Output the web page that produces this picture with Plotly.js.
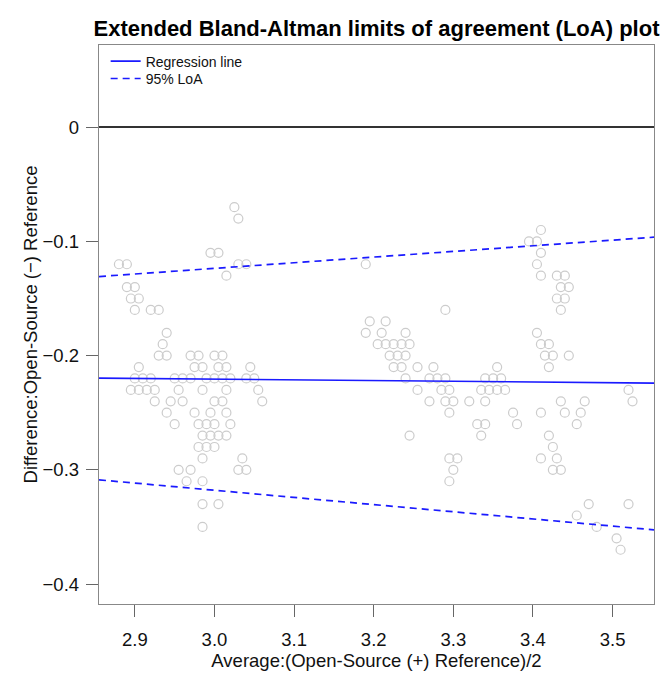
<!DOCTYPE html>
<html>
<head>
<meta charset="utf-8">
<script src="https://cdn.plot.ly/plotly-3.0.1.min.js"></script>
<style>html,body{margin:0;padding:0;background:#fff;}#chart{width:670px;height:673px;}</style>
</head>
<body>
<div id="chart"></div>
<script>
// Scatter points: average (x) and difference (y)
const avgValues = [
  3.025, 3.030,
  2.995, 3.005,
  2.880, 2.890, 3.030, 3.040,
  3.015,
  2.890, 2.900,
  2.895, 2.905,
  2.900, 2.920, 2.930,
  2.940,
  2.935,
  2.930, 2.940, 2.970, 2.980, 3.000, 3.010,
  2.905, 2.975, 2.985, 3.005, 3.015, 3.045,
  2.900, 2.910, 2.920, 2.950, 2.960, 2.970, 2.990, 3.000, 3.010, 3.020, 3.040, 3.050,
  2.895, 2.905, 2.915, 2.925, 2.955, 2.985, 3.015, 3.055,
  2.925, 2.945, 2.960, 3.000, 3.010, 3.060,
  2.940, 2.975, 2.995, 3.015,
  2.950, 2.980, 2.990, 3.000, 3.020,
  2.985, 2.995, 3.005, 3.015,
  2.980, 2.990, 3.000,
  2.985, 3.035,
  2.955, 2.970, 3.030, 3.040,
  2.965, 2.985,
  2.985, 3.005,
  2.985,
  3.190, 3.290,
  3.195, 3.215,
  3.190, 3.210, 3.240,
  3.205, 3.215, 3.225, 3.235, 3.245,
  3.220, 3.230, 3.240,
  3.225, 3.235, 3.255, 3.275, 3.355,
  3.240, 3.270, 3.280, 3.290, 3.340, 3.350, 3.360,
  3.255, 3.285, 3.295, 3.335, 3.345, 3.355, 3.365,
  3.270, 3.290, 3.300, 3.320, 3.340,
  3.295, 3.375,
  3.330, 3.340, 3.380,
  3.245, 3.335,
  3.295, 3.305,
  3.300,
  3.295,
  3.410,
  3.395, 3.405,
  3.410,
  3.405,
  3.410, 3.430, 3.440,
  3.435, 3.445,
  3.430, 3.440,
  3.435,
  3.405,
  3.410, 3.420,
  3.415, 3.425, 3.445,
  3.420,
  3.520,
  3.435, 3.465, 3.525,
  3.410, 3.440, 3.460,
  3.455,
  3.420,
  3.425,
  3.410, 3.430,
  3.425, 3.435,
  3.470, 3.520,
  3.455,
  3.480,
  3.505,
  3.510
];
const diffValues = [
  -0.07, -0.08,
  -0.11, -0.11,
  -0.12, -0.12, -0.12, -0.12,
  -0.13,
  -0.14, -0.14,
  -0.15, -0.15,
  -0.16, -0.16, -0.16,
  -0.18,
  -0.19,
  -0.20, -0.20, -0.20, -0.20, -0.20, -0.20,
  -0.21, -0.21, -0.21, -0.21, -0.21, -0.21,
  -0.22, -0.22, -0.22, -0.22, -0.22, -0.22, -0.22, -0.22, -0.22, -0.22, -0.22, -0.22,
  -0.23, -0.23, -0.23, -0.23, -0.23, -0.23, -0.23, -0.23,
  -0.24, -0.24, -0.24, -0.24, -0.24, -0.24,
  -0.25, -0.25, -0.25, -0.25,
  -0.26, -0.26, -0.26, -0.26, -0.26,
  -0.27, -0.27, -0.27, -0.27,
  -0.28, -0.28, -0.28,
  -0.29, -0.29,
  -0.30, -0.30, -0.30, -0.30,
  -0.31, -0.31,
  -0.33, -0.33,
  -0.35,
  -0.12, -0.16,
  -0.17, -0.17,
  -0.18, -0.18, -0.18,
  -0.19, -0.19, -0.19, -0.19, -0.19,
  -0.20, -0.20, -0.20,
  -0.21, -0.21, -0.21, -0.21, -0.21,
  -0.22, -0.22, -0.22, -0.22, -0.22, -0.22, -0.22,
  -0.23, -0.23, -0.23, -0.23, -0.23, -0.23, -0.23,
  -0.24, -0.24, -0.24, -0.24, -0.24,
  -0.25, -0.25,
  -0.26, -0.26, -0.26,
  -0.27, -0.27,
  -0.29, -0.29,
  -0.30,
  -0.31,
  -0.09,
  -0.10, -0.10,
  -0.11,
  -0.12,
  -0.13, -0.13, -0.13,
  -0.14, -0.14,
  -0.15, -0.15,
  -0.16,
  -0.18,
  -0.19, -0.19,
  -0.20, -0.20, -0.20,
  -0.21,
  -0.23,
  -0.24, -0.24, -0.24,
  -0.25, -0.25, -0.25,
  -0.26,
  -0.27,
  -0.28,
  -0.29, -0.29,
  -0.30, -0.30,
  -0.33, -0.33,
  -0.34,
  -0.35,
  -0.36,
  -0.37
];

// Line coefficients: [intercept, slope]
const regressionCoef = [-0.2021, -0.00617];
const upperLoACoef = [-0.2721, 0.0495];
const lowerLoACoef = [-0.1295, -0.0628];

// Axis settings
const xRange = [2.855, 3.552];
const yRange = [-0.4175, 0.072];
const xTickVals = [2.9, 3.0, 3.1, 3.2, 3.3, 3.4, 3.5];
const xTickText = ["2.9", "3.0", "3.1", "3.2", "3.3", "3.4", "3.5"];
const yTickVals = [0, -0.1, -0.2, -0.3, -0.4];
const yTickText = ["0", "\u22120.1", "\u22120.2", "\u22120.3", "\u22120.4"];

const titleText = "Extended Bland-Altman limits of agreement (LoA) plot";
const xTitle = "Average:(Open-Source (+) Reference)/2";
const yTitle = "Difference:Open-Source (\u2212) Reference";
const legendNames = ["Regression line", "95% LoA"];

function lineY(coef, xs) { return xs.map(x => coef[0] + coef[1] * x); }

const FONT = "Liberation Sans, Arial, sans-serif";
const BLUE = "#1a1aff";
const DASH = "7px,5px";

const traces = [
  {
    x: avgValues, y: diffValues, type: "scatter", mode: "markers",
    marker: { symbol: "circle-open", size: 9, color: "#cccccc", line: { width: 1.2, color: "#cccccc" } },
    showlegend: false, hoverinfo: "x+y"
  },
  {
    x: xRange, y: lineY(regressionCoef, xRange), type: "scatter", mode: "lines",
    line: { color: BLUE, width: 1.7 }, name: legendNames[0], legend: "legend"
  },
  {
    x: xRange, y: lineY(upperLoACoef, xRange), type: "scatter", mode: "lines",
    line: { color: BLUE, width: 1.7, dash: DASH }, name: legendNames[1], legendgroup: "loa", legend: "legend2"
  },
  {
    x: xRange, y: lineY(lowerLoACoef, xRange), type: "scatter", mode: "lines",
    line: { color: BLUE, width: 1.7, dash: DASH }, name: legendNames[1], legendgroup: "loa", legend: "legend2", showlegend: false
  }
];

const legendBase = {
  x: 0.012, xanchor: "left", yanchor: "top",
  bgcolor: "rgba(0,0,0,0)", borderwidth: 0, itemwidth: 30,
  font: { size: 14, family: FONT, color: "#111" }
};

const layout = {
  width: 670, height: 673,
  margin: { l: 99, r: 16, t: 45, b: 69 },
  paper_bgcolor: "#fff", plot_bgcolor: "#fff",
  font: { family: FONT, color: "#111" },
  title: {
    text: "<b>" + titleText + "</b>", font: { size: 22, family: FONT, color: "#000" },
    x: 0.5, xref: "paper", xanchor: "center", y: 0.958, yref: "container", yanchor: "middle"
  },
  showlegend: true,
  legend: Object.assign({}, legendBase, { y: 0.999 }),
  legend2: Object.assign({}, legendBase, { y: 0.968 }),
  xaxis: {
    range: xRange, tickvals: xTickVals, ticktext: xTickText,
    ticks: "outside", ticklen: 12, tickwidth: 1, tickcolor: "#666",
    showline: true, mirror: true, linecolor: "#888", linewidth: 1.2,
    showgrid: false, zeroline: false, ticklabelstandoff: 7,
    tickfont: { size: 18.5, family: FONT, color: "#111" },
    title: { text: xTitle, font: { size: 18.5, family: FONT, color: "#111" }, standoff: 4 }
  },
  yaxis: {
    range: yRange, tickvals: yTickVals, ticktext: yTickText,
    ticks: "outside", ticklen: 12, tickwidth: 1, tickcolor: "#666",
    showline: true, mirror: true, linecolor: "#888", linewidth: 1.2,
    showgrid: false, zeroline: true, zerolinecolor: "#333", zerolinewidth: 1.6,
    ticklabelstandoff: 3,
    tickfont: { size: 18.5, family: FONT, color: "#111" },
    title: { text: yTitle, font: { size: 18.5, family: FONT, color: "#111" }, standoff: 0 }
  }
};

Plotly.newPlot("chart", traces, layout, { displayModeBar: false, staticPlot: true });
</script>
</body>
</html>
